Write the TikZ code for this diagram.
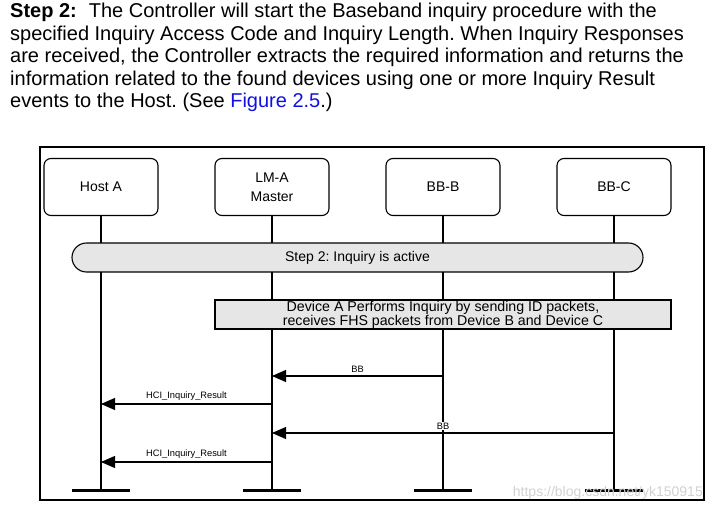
\documentclass[tikz,border=0pt]{standalone}
\usepackage{fontspec}
\setmainfont{Liberation Sans}
\usetikzlibrary{arrows.meta}
\definecolor{boxgray}{HTML}{E6E6E6}
\definecolor{linkblue}{HTML}{1010E0}
\begin{document}
\frenchspacing
\begin{tikzpicture}[x=1pt,y=-1pt,
  para/.style={anchor=base west, inner sep=0, font=\fontsize{20}{22}\selectfont},
  actor/.style={draw, rounded corners=7, line width=1.1pt, minimum width=114, minimum height=57, align=center, font=\fontsize{14}{19}\selectfont, inner sep=0},
  life/.style={line width=1.3pt},
  endbar/.style={line width=3pt},
  msg/.style={line width=1.1pt, -{Triangle[length=14,width=12]}},
  lbl/.style={font=\fontsize{9.3}{10}\selectfont, inner sep=1pt},
  grayfill/.style={fill=boxgray, draw, line width=1.1pt, inner sep=0, align=center},
]
\useasboundingbox (0,0) rectangle (714,510);
% paragraph
\node[para] (p1) at (10,17.5) {\textbf{Step 2:}\hspace{12pt}The Controller will start the Baseband inquiry procedure with the};
\node[para] (p2) at (10,40.5) {specified Inquiry Access Code and Inquiry Length. When Inquiry Responses};
\node[para] (p3) at (10,63) {are received, the Controller extracts the required information and returns the};
\node[para] (p4) at (10,85.5) {information related to the found devices using one or more Inquiry Result};
\node[para] (p5) at (10,108) {events to the Host. (See \textcolor{linkblue}{Figure 2.5}.)};
% frame
\draw[line width=1.2pt] (40,147) rectangle (704,500);
% actors
\node[actor] (hostA) at (101,187) {Host A};
\node[actor] (lmA) at (272,187) {LM-A\\Master};
\node[actor] (bbB) at (443,187) {BB-B};
\node[actor] (bbC) at (614,187) {BB-C};
\coordinate (hostAend) at (101,490);
\coordinate (lmAend) at (272,490);
\coordinate (bbBend) at (443,490);
\coordinate (bbCend) at (614,490);
\draw[life] (hostA.south) -- (hostAend);
\draw[life] (lmA.south) -- (lmAend);
\draw[life] (bbB.south) -- (bbBend);
\draw[life] (bbC.south) -- (bbCend);
\foreach \e in {hostAend,lmAend,bbBend,bbCend}
  \draw[endbar] ([xshift=-29pt]\e) -- ([xshift=29pt]\e);
% step bar
\node[grayfill, rounded corners=14.5, minimum width=571, minimum height=29, font=\fontsize{14}{16}\selectfont] (step) at (357.5,257.5) {Step 2: Inquiry is active};
% device box
\node[grayfill, minimum width=456, minimum height=29, font=\fontsize{14.2}{13}\selectfont] (dev) at (443,314.5) {Device A Performs Inquiry by sending ID packets,\\receives FHS packets from Device B and Device C};
% messages
\coordinate (m1s) at (443,376); \coordinate (m1e) at (272,376);
\coordinate (m2s) at (272,404); \coordinate (m2e) at (101,404);
\coordinate (m3s) at (614,433); \coordinate (m3e) at (272,433);
\coordinate (m4s) at (272,462); \coordinate (m4e) at (101,462);
\draw[msg] (m1s) -- node[lbl, above=2pt] (l1) {BB} (m1e);
\draw[msg] (m2s) -- node[lbl, above=2pt] (l2) {HCI\_Inquiry\_Result} (m2e);
\draw[msg] (m3s) -- node[lbl, above=2pt, fill=white] (l3) {BB} (m3e);
\draw[msg] (m4s) -- node[lbl, above=2pt] (l4) {HCI\_Inquiry\_Result} (m4e);
% watermark
\node[anchor=base east, inner sep=0, text=black!18, font=\fontsize{14}{16}\selectfont] (wm) at (703,496) {https://blog.csdn.net/yk150915};
\end{tikzpicture}
\end{document}
